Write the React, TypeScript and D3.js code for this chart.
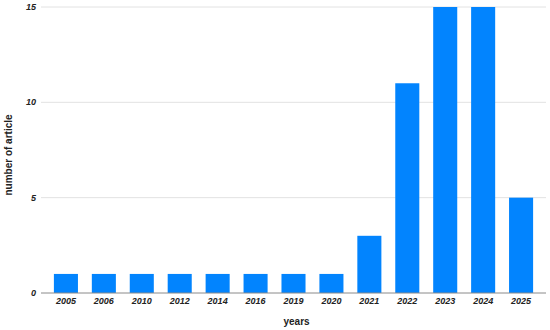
import React from 'react';
import * as d3 from 'd3';

const years = ['2005', '2006', '2010', '2012', '2014', '2016', '2019', '2020', '2021', '2022', '2023', '2024', '2025'];
const articles = [1, 1, 1, 1, 1, 1, 1, 1, 3, 11, 15, 15, 5];
const yTicks = [0, 5, 10, 15];

const width = 550;
const height = 330;
const margin = { top: 7, right: 4, bottom: 37, left: 41 };

export default function App() {
  const x = d3.scaleBand()
    .domain(years)
    .range([margin.left, width - margin.right])
    .paddingInner(0.366)
    .paddingOuter(0.34);

  const y = d3.scaleLinear()
    .domain([0, 15])
    .range([height - margin.bottom, margin.top]);

  const font = '"Liberation Sans", Arial, sans-serif';
  const plotCenter = (margin.left + width - margin.right) / 2;

  return (
    <svg width={width} height={height} style={{ position: 'absolute', left: 0, top: 0, background: '#fff' }}>
      {/* gridlines */}
      {yTicks.filter(t => t > 0).map(t => (
        <line key={t} x1={margin.left} x2={width - margin.right} y1={y(t)} y2={y(t)} stroke="#e2e2e2" strokeWidth={1} />
      ))}
      {yTicks.map(t => (
        <text key={t} x={36} y={y(t)} dy="0.35em" textAnchor="end" fontFamily={font} fontSize={9}
          fontWeight="bold" fontStyle="italic" fill="#222">{t}</text>
      ))}

      {years.map((yr, i) => (
        <rect key={yr} x={x(yr)} y={y(articles[i])} width={x.bandwidth()}
          height={y(0) - y(articles[i])} fill="#0284fe" />
      ))}

      <line x1={margin.left} x2={width - margin.right} y1={y(0)} y2={y(0)} stroke="#8a8a8a" strokeWidth={1} />

      {years.map(yr => (
        <text key={yr} x={(x(yr) as number) + x.bandwidth() / 2} y={304} textAnchor="middle" fontFamily={font}
          fontSize={9} fontWeight="bold" fontStyle="italic" fill="#222">{yr}</text>
      ))}

      <text x={plotCenter - 10} y={325} textAnchor="start" fontFamily={font} fontSize={10} fontWeight="bold" fill="#222">years</text>
      <text transform={`translate(12, ${(margin.top + height - margin.bottom) / 2 + 5}) rotate(-90)`} textAnchor="middle"
        fontFamily={font} fontSize={10} fontWeight="bold" fill="#222">number of article</text>
    </svg>
  );
}
